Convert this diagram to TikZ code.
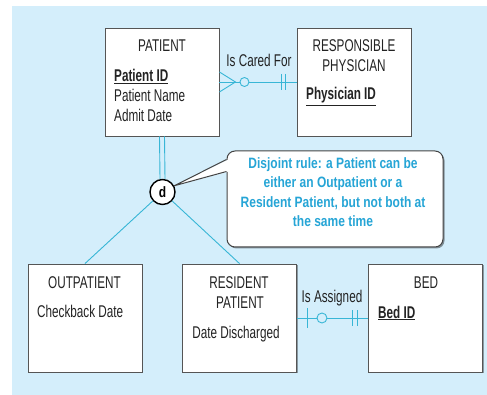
\documentclass[tikz,border=0pt]{standalone}
\usepackage{fontspec}
\setmainfont{Liberation Sans}[FakeStretch=0.69]
\newfontfamily\notefont{Liberation Sans}[FakeStretch=0.8]
\usetikzlibrary{calc,shadows}
\definecolor{bgblue}{RGB}{212,238,251}
\definecolor{relcyan}{RGB}{56,182,214}
\definecolor{notecyan}{RGB}{38,165,214}
\definecolor{boxgray}{RGB}{85,85,85}
\definecolor{inkgray}{RGB}{35,35,35}

\begin{document}
\begin{tikzpicture}[x=1pt,y=-1pt]
  % Define styles for boxes, texts and lines
  \tikzset{
    entity/.style={draw=boxgray, line width=0.9pt, fill=white, minimum width=114pt,
      minimum height=108pt, inner sep=0,
      drop shadow={shadow xshift=1.2pt, shadow yshift=-1.2pt, fill=black, opacity=0.35}},
    ent title/.style={font=\fontsize{17}{20}\selectfont, text=inkgray, anchor=base, inner sep=0},
    attr/.style={ent title, anchor=base west},
    relline/.style={draw=relcyan, line width=0.9pt},
    optcircle/.style={relline, fill=bgblue},
    dcircle/.style={circle, draw=black, line width=1.4pt, fill=white, minimum size=25pt,
      inner sep=0, font=\notefont\bfseries\fontsize{15}{15}\selectfont},
    note/.style={draw=boxgray!80!black, line width=1pt, fill=white, rounded corners=8pt,
      minimum width=216pt, minimum height=96pt,
      drop shadow={shadow xshift=1.5pt, shadow yshift=-1.5pt, fill=black, opacity=0.4}},
    note text/.style={align=center, text=notecyan, inner sep=0,
      font=\notefont\bfseries\fontsize{15}{19.3}\selectfont}
  }

  \useasboundingbox (0,0) rectangle (487,395);
  \fill[bgblue] (12,6) rectangle (487,395);

  % Top row
  \node[entity] (patient) at (162,82) {};
  \node[ent title] (patientT) at (162,52) {PATIENT};
  \node[attr] (patientA1) at (114,82) {\textbf{\underline{Patient ID}}};
  \node[attr] (patientA2) at (114,102) {Patient Name};
  \node[attr] (patientA3) at (114,122) {Admit Date};

  \node[entity] (physician) at (354,82) {};
  \node[ent title] (physicianT1) at (354,52) {RESPONSIBLE};
  \node[ent title] (physicianT2) at (354,72) {PHYSICIAN};
  \node[attr] (physicianA1) at (306,100) {\textbf{\underline{Physician ID}}};

  \node[ent title] (caredL) at (259,67) {Is Cared For};
  \draw[relline] (patient.east) -- (physician.west);
  \draw[relline] ($(patient.east)+(0,-10)$) -- ($(patient.east)+(16,0)$) -- ($(patient.east)+(0,10)$);
  \draw[optcircle] ($(patient.east)+(25,0)$) circle (4.5pt);
  \draw[relline] ($(physician.west)+(-15,-8)$) -- ++(0,16);
  \draw[relline] ($(physician.west)+(-11,-8)$) -- ++(0,16);

  % Bottom row
  \node[entity] (outpatient) at (85,318) {};
  \node[ent title] (outpatientT) at (84.5,288) {OUTPATIENT};
  \node[attr] (outpatientA1) at (37,317) {Checkback Date};

  \node[entity] (resident) at (239.5,318) {};
  \node[ent title] (residentT1) at (239,288) {RESIDENT};
  \node[ent title] (residentT2) at (240,308) {PATIENT};
  \node[ent title] (residentA1) at (236,338) {Date Discharged};

  \node[entity] (bed) at (425.5,318) {};
  \node[ent title] (bedT) at (426,288) {BED};
  \node[attr] (bedA1) at (378,318) {\textbf{\underline{Bed ID}}};

  \node[ent title] (assignedL) at (332,302) {Is Assigned};
  \draw[relline] (resident.east) -- (bed.west);
  \draw[relline] ($(resident.east)+(10,-10)$) -- ++(0,20);
  \draw[optcircle] ($(resident.east)+(25,0)$) circle (5pt);
  \draw[relline] ($(bed.west)+(-16,-8)$) -- ++(0,16);
  \draw[relline] ($(bed.west)+(-11,-8)$) -- ++(0,16);

  % Disjoint subtype circle
  \node[dcircle] (dnode) at (162.5,192) {d};
  \draw[relline] ([xshift=-2.5pt]patient.south) -- ([xshift=-2.5pt]dnode.north);
  \draw[relline] ([xshift=2.5pt]patient.south) -- ([xshift=2.5pt]dnode.north);
  \draw[relline] (dnode) -- (outpatient.north);
  \draw[relline] (dnode) -- (resident.north);

  % Callout
  \node[note] (note) at (335,199) {};
  \fill[white] ($(note.north west)+(2,9)$) -- (dnode.28) -- ($(note.north west)+(2,21)$) -- cycle;
  \draw[draw=boxgray!80!black, line width=1pt, line join=round]
    ($(note.north west)+(0,9)$) -- (dnode.28) -- ($(note.north west)+(0,21)$);
  \node[note text] (notetext) at (333,192) {Disjoint rule: a Patient can be\\either an Outpatient or a\\Resident Patient, but not both at\\the same time};
\end{tikzpicture}
\end{document}
